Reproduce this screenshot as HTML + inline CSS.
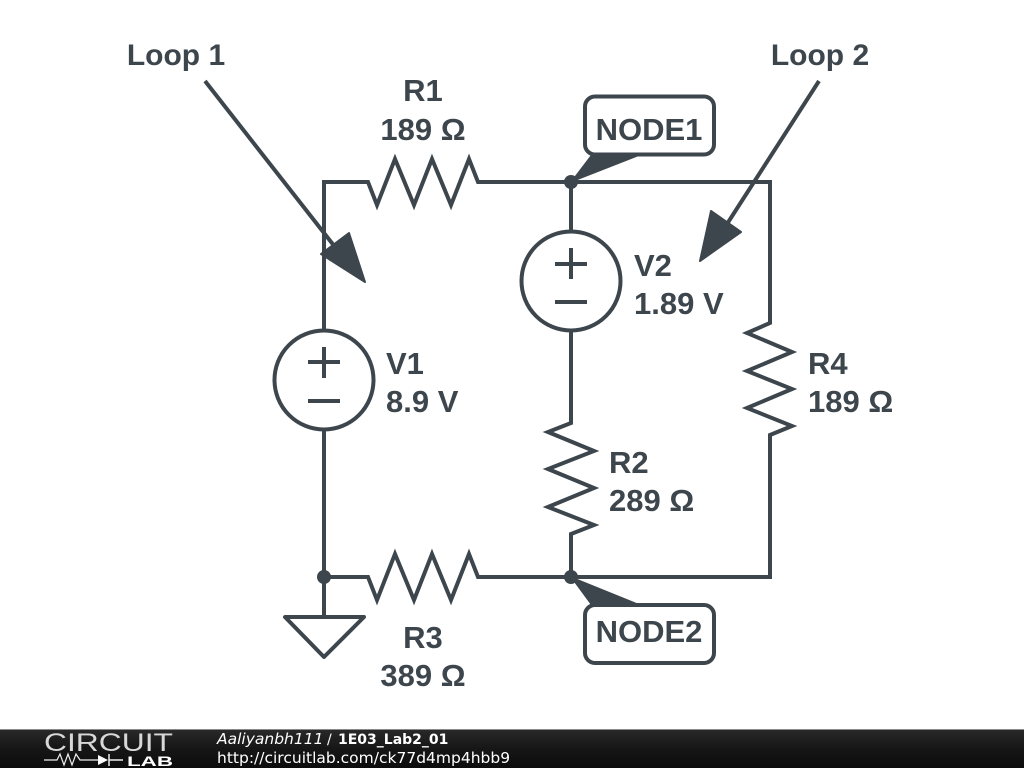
<!DOCTYPE html>
<html>
<head>
<meta charset="utf-8">
<style>
html,body{margin:0;padding:0;background:#fff;width:1024px;height:768px;overflow:hidden}
svg{display:block}
.l{font-family:"Liberation Sans",sans-serif;font-weight:700;font-size:31px;fill:#3d464c}
.w{fill:none;stroke:#3d464c;stroke-width:4;stroke-linejoin:miter;stroke-linecap:butt}
.f{font-family:"DejaVu Sans",sans-serif;fill:#fff}
</style>
</head>
<body>
<svg width="1024" height="768" viewBox="0 0 1024 768" xmlns="http://www.w3.org/2000/svg">
<rect width="1024" height="768" fill="#fff"/>
<!-- wires -->
<path class="w" d="M324 330V182H368L377 205L395 159L414 205L432 159L451 205L469 159L478 182H770V323L747 333L792 352L747 371L792 389L747 408L792 426L770 435V577H478L469 554L451 600L432 554L414 600L395 554L377 600L368 577H324"/>
<path class="w" d="M324 430V616"/>
<path class="w" d="M571 182V231"/>
<path class="w" d="M571 331V423L548 432L594 451L548 469L594 488L548 507L594 525L571 534V577"/>
<!-- sources -->
<circle class="w" cx="324" cy="380" r="49.5"/>
<path class="w" d="M324 347V378M308 362H340M308 401H340"/>
<circle class="w" cx="571" cy="281" r="49.5"/>
<path class="w" d="M571 248V279M555 264H587M555 302H587"/>
<!-- ground -->
<path class="w" style="stroke-linejoin:round" d="M285 617H364L324 657Z"/>
<!-- junctions -->
<circle cx="571" cy="182" r="7" fill="#3d464c"/>
<circle cx="571" cy="577" r="7" fill="#3d464c"/>
<circle cx="324" cy="577" r="7" fill="#3d464c"/>
<!-- node labels -->
<path d="M571 182L593 153H645Z" fill="#3d464c" stroke="#3d464c" stroke-width="1" stroke-linejoin="round"/>
<rect class="w" x="585" y="96.500" width="129" height="58" rx="10" ry="10" style="fill:#fff"/>
<path d="M571 577L593 607H645Z" fill="#3d464c" stroke="#3d464c" stroke-width="1" stroke-linejoin="round"/>
<rect class="w" x="585" y="605" width="129" height="58" rx="10" ry="10" style="fill:#fff"/>
<!-- loop arrows -->
<path class="w" d="M205 81L335 247"/>
<path d="M349 233L365 282L321 254Z" fill="#3d464c" stroke="#3d464c" stroke-width="2" stroke-linejoin="round"/>
<path class="w" d="M819 81L727 224"/>
<path d="M711 211L741 232L700 261Z" fill="#3d464c" stroke="#3d464c" stroke-width="2" stroke-linejoin="round"/>
<!-- text -->
<text class="l" x="176" y="65" text-anchor="middle" style="font-size:30px">Loop 1</text>
<text class="l" x="820" y="65" text-anchor="middle" style="font-size:30px">Loop 2</text>
<text class="l" x="423" y="101" text-anchor="middle">R1</text>
<text class="l" x="423" y="140" text-anchor="middle">189 Ω</text>
<text class="l" x="649" y="140" text-anchor="middle">NODE1</text>
<text class="l" x="649" y="642" text-anchor="middle">NODE2</text>
<text class="l" x="634" y="276">V2</text>
<text class="l" x="634" y="314">1.89 V</text>
<text class="l" x="386" y="374">V1</text>
<text class="l" x="386" y="412">8.9 V</text>
<text class="l" x="808" y="374">R4</text>
<text class="l" x="808" y="412">189 Ω</text>
<text class="l" x="609" y="473">R2</text>
<text class="l" x="609" y="511">289 Ω</text>
<text class="l" x="423" y="648" text-anchor="middle">R3</text>
<text class="l" x="423" y="686" text-anchor="middle">389 Ω</text>
<!-- footer -->
<defs>
<linearGradient id="g" x1="0" y1="0" x2="0" y2="1">
<stop offset="0" stop-color="#2a2a2a"/>
<stop offset="0.5" stop-color="#161616"/>
<stop offset="1" stop-color="#0c0c0c"/>
</linearGradient>
</defs>
<rect x="0" y="729" width="1024" height="39" fill="url(#g)"/>
<rect x="0" y="729" width="1024" height="1" fill="#8a8a8a"/>
<text x="44" y="751" font-family="Liberation Sans,sans-serif" font-size="25" fill="#d8d8d8" textLength="129" lengthAdjust="spacingAndGlyphs">CIRCUIT</text>
<path d="M44 760H57L60 754L64 765L68 754L72 765L76 754L80 760H98" fill="none" stroke="#eee" stroke-width="1.200"/>
<path d="M98 755V765L108 760Z" fill="#fff"/>
<path d="M109 754V766M109 760H123" fill="none" stroke="#eee" stroke-width="1.500"/>
<text x="127" y="766" font-family="Liberation Sans,sans-serif" font-weight="700" font-size="14" fill="#fff" textLength="46" lengthAdjust="spacingAndGlyphs">LAB</text>
<text class="f" x="217" y="744" font-size="15.5" font-style="italic">Aaliyanbh111</text>
<text class="f" x="327" y="744" font-size="14">/</text>
<text class="f" x="338" y="744" font-size="14" font-weight="700">1E03_Lab2_01</text>
<text class="f" x="217" y="763" font-size="15.5">http://circuitlab.com/ck77d4mp4hbb9</text>
</svg>
</body>
</html>
